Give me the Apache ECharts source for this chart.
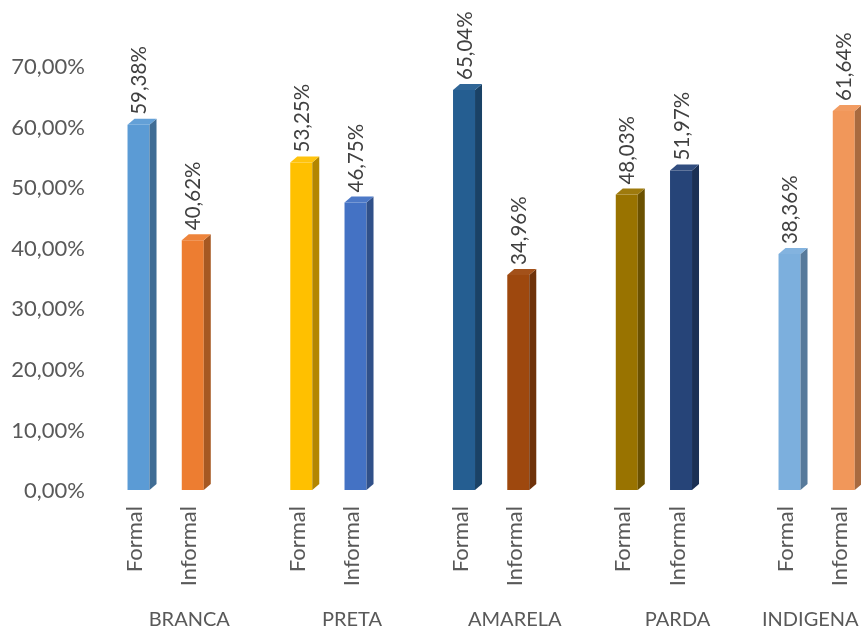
<!DOCTYPE html>
<html>
<head>
<meta charset="utf-8">
<script src="https://cdn.jsdelivr.net/npm/echarts@6/dist/echarts.min.js"></script>
<style>
  html, body { margin: 0; padding: 0; background: #ffffff; }
  #chart { width: 861px; height: 631px; }
</style>
</head>
<body>
<div id="chart"></div>
<script>
// Share of formal vs informal work by race/colour group
const groups = ['BRANCA', 'PRETA', 'AMARELA', 'PARDA', 'INDIGENA'];
const kinds = ['Formal', 'Informal'];
const formal = [59.38, 53.25, 65.04, 48.03, 38.36];
const informal = [40.62, 46.75, 34.96, 51.97, 61.64];
const formalColors = ['#5B9BD5', '#FFC000', '#255E91', '#997300', '#7CAFDD'];
const informalColors = ['#ED7D31', '#4472C4', '#9E480E', '#264478', '#F1975A'];
const yMin = 0, yMax = 70, yStep = 10;

const FONT = 'Lato, "Noto Sans", sans-serif';
const fmt = v => v.toFixed(2).replace('.', ',') + '%';

// Category slots: Formal, Informal, then an empty spacer between groups
const slotLabels = [];
const groupSlotLabels = [];
const barData = [];
const barColors = [];
groups.forEach((g, i) => {
  slotLabels.push(kinds[0]);
  groupSlotLabels.push('');
  barData.push([slotLabels.length - 1, formal[i]]);
  barColors.push(formalColors[i]);

  slotLabels.push(kinds[1]);
  groupSlotLabels.push(i === groups.length - 1
    ? { value: g, textStyle: { padding: [0, 60, 0, 0] } }
    : g);
  barData.push([slotLabels.length - 1, informal[i]]);
  barColors.push(informalColors[i]);

  if (i < groups.length - 1) { slotLabels.push(''); groupSlotLabels.push(''); }
});

function shade(hex, f) {
  const n = parseInt(hex.slice(1), 16);
  let r = (n >> 16) & 255, g = (n >> 8) & 255, b = n & 255;
  const mix = c => f < 0 ? Math.round(c * (1 + f)) : Math.round(c + (255 - c) * f);
  return 'rgb(' + mix(r) + ',' + mix(g) + ',' + mix(b) + ')';
}

// Pseudo-3D column: front face, right side face, top face and value label
function renderColumn(params, api) {
  const i = params.dataIndex;
  const base = api.coord([api.value(0), 0]);
  const top = api.coord([api.value(0), api.value(1)]);
  const cx = base[0];
  const x0 = cx - 7.5, x1 = cx + 14.5;
  const dx = 7, dy = 6;
  const c = barColors[i];
  return {
    type: 'group',
    children: [
      { type: 'rect', shape: { x: x0, y: top[1], width: x1 - x0, height: base[1] - top[1] },
        style: { fill: c } },
      { type: 'polygon', shape: { points: [[x1, top[1]], [x1 + dx, top[1] - dy], [x1 + dx, base[1] - dy], [x1, base[1]]] },
        style: { fill: shade(c, -0.3) } },
      { type: 'polygon', shape: { points: [[x0, top[1]], [x0 + dx, top[1] - dy], [x1 + dx, top[1] - dy], [x1, top[1]]] },
        style: { fill: shade(c, 0.05) } },
      { type: 'text', x: cx + 4.5, y: top[1] - 10, rotation: Math.PI / 2,
        style: { text: fmt(api.value(1)), align: 'left', verticalAlign: 'middle',
                 fill: '#404040', font: '20.5px ' + FONT } }
    ]
  };
}

const chart = echarts.init(document.getElementById('chart'));
chart.setOption({
  animation: false,
  backgroundColor: '#ffffff',
  grid: [
    { left: 93, top: 67, bottom: 140, width: 10, outerBoundsMode: 'none' },
    { left: 107.9, top: 59.5, bottom: 141, width: 759.5, outerBoundsMode: 'none' }
  ],
  xAxis: [
    { gridIndex: 0, type: 'value', show: false },
    { gridIndex: 1, type: 'category', data: slotLabels,
      axisLine: { show: false }, axisTick: { show: false },
      axisLabel: { interval: 0, rotate: 90, margin: 16, color: '#595959',
                   fontSize: 22, fontFamily: FONT } },
    { gridIndex: 1, type: 'category', position: 'bottom', offset: 112, data: groupSlotLabels,
      axisLine: { show: false }, axisTick: { show: false },
      axisLabel: { interval: 0, margin: 8, color: '#595959', fontSize: 20, fontFamily: FONT } }
  ],
  yAxis: [
    { gridIndex: 0, type: 'value', min: yMin, max: yMax, interval: yStep,
      axisLine: { show: false }, axisTick: { show: false }, splitLine: { show: false },
      axisLabel: { formatter: v => fmt(v), color: '#595959', fontSize: 22, fontFamily: FONT, margin: 8 } },
    { gridIndex: 1, type: 'value', min: yMin, max: yMax, show: false, splitLine: { show: false } }
  ],
  series: [
    { type: 'custom', xAxisIndex: 1, yAxisIndex: 1, data: barData, renderItem: renderColumn }
  ]
});
</script>
</body>
</html>
